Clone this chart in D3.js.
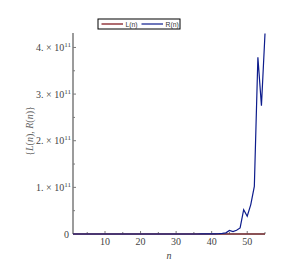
<!DOCTYPE html>
<html>
<head>
<meta charset="utf-8">
<script src="https://cdn.jsdelivr.net/npm/d3@7"></script>
<style>
  body { margin: 0; background: #fff; }
  svg { display: block; }
  .serif { font-family: "Liberation Serif", "Times New Roman", serif; }
</style>
</head>
<body>
<div id="chart-area"></div>
<script>
// n = 1..55
var nValues = d3.range(1, 56);

// R(n) (tiny until n ~ 43)
var rValues = [
	0, 0, 0, 0, 0, 0, 0, 0, 0, 0,
	0, 0, 0, 0, 0, 0, 0, 0, 0, 0,
	0, 0, 0, 0, 0, 0, 0, 0, 0, 0,
	0, 0, 0, 1e7, 2e7, 4e7, 6e7, 1e8, 1.5e8, 2.5e8,
	4e8, 7e8, 1.2e9, 2.5e9, 7.5e9, 5e9, 8e9, 1.3e10, 5.2e10, 3.8e10,
	6.3e10, 1.02e11, 3.79e11, 2.75e11, 4.3e11
];

// L(n) stays at about zero on this scale
var lValues = nValues.map(function() { return 0; });

var seriesNames = ['L(n)', 'R(n)'];
var seriesColors = ['#7a0a12', '#0d1c8c'];

var yTicks = [1e11, 2e11, 3e11, 4e11];
var yTickMantissa = ['1.', '2.', '3.', '4.'];
var xTicks = [10, 20, 30, 40, 50];

var margin = { top: 33, right: 23, bottom: 31, left: 73 },
	width = 288 - margin.left - margin.right,
	height = 265 - margin.top - margin.bottom;

var svg = d3.select('#chart-area')
	.append('svg')
		.attr('width', 288)
		.attr('height', 265);

var g = svg.append('g')
	.attr('transform', 'translate(' + margin.left + ', ' + margin.top + ')');

var xScale = d3.scaleLinear()
	.domain([1, 55])
	.range([0, width]);

var yScale = d3.scaleLinear()
	.domain([0, 4.31e11])
	.range([height, 0]);

var axisColor = '#7a7a7a';
var textColor = '#444';

// minor ticks first
g.selectAll('.x-minor')
	.data(d3.range(5, 56, 5))
	.enter().append('line')
		.attr('x1', d => xScale(d))
		.attr('x2', d => xScale(d))
		.attr('y1', height)
		.attr('y2', d => height - (d % 10 === 0 ? 3 : 2))
		.attr('stroke', axisColor);

g.selectAll('.y-minor')
	.data(d3.range(0.5e11, 4.3e11, 0.5e11))
	.enter().append('line')
		.attr('x1', 0)
		.attr('x2', d => (Math.round(d / 1e11 * 2) % 2 === 0 ? 3 : 2))
		.attr('y1', d => yScale(d))
		.attr('y2', d => yScale(d))
		.attr('stroke', axisColor);

// axis lines
g.append('line')
	.attr('x1', 0).attr('x2', width)
	.attr('y1', height).attr('y2', height)
	.attr('stroke', axisColor).attr('stroke-width', 1.5);
g.append('line')
	.attr('x1', 0).attr('x2', 0)
	.attr('y1', 0).attr('y2', height)
	.attr('stroke', axisColor).attr('stroke-width', 1.5);

// x tick labels
g.selectAll('.x-label')
	.data(xTicks)
	.enter().append('text')
		.attr('class', 'serif')
		.attr('x', d => xScale(d))
		.attr('y', height + 11)
		.attr('text-anchor', 'middle')
		.attr('font-size', '10px')
		.attr('fill', textColor)
		.text(d => d);

// y tick labels
g.append('text')
	.attr('class', 'serif')
	.attr('x', -4)
	.attr('y', yScale(0) + 3.5)
	.attr('text-anchor', 'end')
	.attr('font-size', '10px')
	.attr('fill', textColor)
	.text('0');

var yLab = g.selectAll('.y-label')
	.data(yTicks)
	.enter().append('text')
		.attr('class', 'serif')
		.attr('x', -2)
		.attr('y', d => yScale(d) + 3.5)
		.attr('text-anchor', 'end')
		.attr('font-size', '10px')
		.attr('fill', textColor);
yLab.append('tspan').text((d, i) => yTickMantissa[i] + ' \u00d7 10');
yLab.append('tspan')
	.attr('dy', -4)
	.attr('font-size', '7px')
	.text('11');

// axis titles
svg.append('text')
	.attr('class', 'serif')
	.attr('x', 169)
	.attr('y', 259)
	.attr('text-anchor', 'middle')
	.attr('font-style', 'italic')
	.attr('font-size', '10px')
	.attr('fill', textColor)
	.text('n');

var yTitle = svg.append('text')
	.attr('class', 'serif')
	.attr('transform', 'translate(33, 131) rotate(-90)')
	.attr('text-anchor', 'middle')
	.attr('font-size', '10px')
	.attr('fill', '#666');
yTitle.append('tspan').text('{');
yTitle.append('tspan').attr('font-style', 'italic').text('L');
yTitle.append('tspan').text('(');
yTitle.append('tspan').attr('font-style', 'italic').text('n');
yTitle.append('tspan').text('), ');
yTitle.append('tspan').attr('font-style', 'italic').text('R');
yTitle.append('tspan').text('(');
yTitle.append('tspan').attr('font-style', 'italic').text('n');
yTitle.append('tspan').text(')}');

// series lines
var line = d3.line()
	.x(d => xScale(d[0]))
	.y(d => yScale(d[1]));

g.append('path')
	.datum(nValues.map((n, i) => [n, lValues[i]]))
	.attr('d', line)
	.attr('fill', 'none')
	.attr('stroke', seriesColors[0])
	.attr('stroke-width', 1.2);

g.append('path')
	.datum(nValues.map((n, i) => [n, rValues[i]]))
	.attr('d', line)
	.attr('fill', 'none')
	.attr('stroke', seriesColors[1])
	.attr('stroke-width', 1.2);

// legend
var legend = svg.append('g').attr('transform', 'translate(98, 19)');
legend.append('rect')
	.attr('width', 82).attr('height', 10)
	.attr('fill', '#fff').attr('stroke', '#000').attr('stroke-width', 1);

var legItems = legend.selectAll('.leg')
	.data(seriesNames)
	.enter().append('g')
		.attr('transform', (d, i) => 'translate(' + (3.5 + i * 40) + ', 5)');
legItems.append('line')
	.attr('x1', 0).attr('x2', 21.5)
	.attr('stroke', (d, i) => seriesColors[i])
	.attr('stroke-width', 1.2);
legItems.append('text')
	.attr('x', 24)
	.attr('y', 2.6)
	.attr('font-family', '"Liberation Sans", Arial, sans-serif')
	.attr('font-size', '6.8px')
	.attr('fill', '#333')
	.text(d => d);
</script>
</body>
</html>
